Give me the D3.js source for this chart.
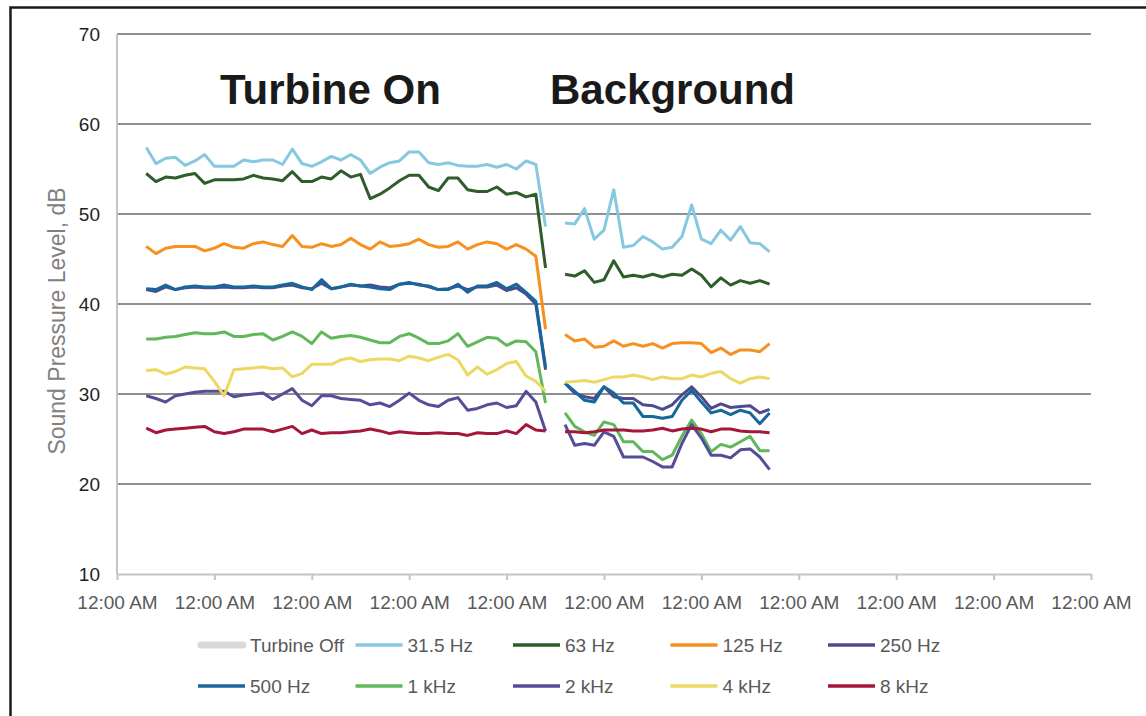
<!DOCTYPE html>
<html lang="en">
<head>
<meta charset="UTF-8">
<title>Sound Pressure Level - Turbine On / Background</title>
<script src="https://d3js.org/d3.v7.min.js"></script>
<style>
  body { margin: 0; overflow: hidden; background: #fff; font-family: 'Liberation Sans', Arial, sans-serif; }
  text { font-family: 'Liberation Sans', Arial, sans-serif; }
</style>
</head>
<body>
<div id="chart"></div>
<script>
  // samples are 144 min apart (10 per day), first "Turbine On" sample is #3, first background sample is #46
  const onStart = 3;
  const bgStart = 46;

  const series = ["Turbine Off", "31.5 Hz", "63 Hz", "125 Hz", "250 Hz", "500 Hz", "1 kHz", "2 kHz", "4 kHz", "8 kHz"];
  const colors = ["#d9d9d9", "#86c8e0", "#2d5d2a", "#f7901e", "#4f4a8e", "#17679b", "#60b85a", "#544e98", "#ecd862", "#a4163a"];

  // Turbine On period (dB)
  const on315 = [57.4, 55.6, 56.2, 56.3, 55.4, 55.9, 56.6, 55.3, 55.3, 55.3, 56.0, 55.8, 56.0, 56.0, 55.5, 57.2, 55.6, 55.3, 55.8, 56.4, 56.0, 56.6, 56.0, 54.5, 55.2, 55.7, 55.9, 56.9, 56.9, 55.7, 55.5, 55.7, 55.4, 55.3, 55.3, 55.5, 55.2, 55.5, 55.0, 55.9, 55.5, 48.6];
  const on63  = [54.5, 53.6, 54.1, 54.0, 54.3, 54.5, 53.4, 53.8, 53.8, 53.8, 53.9, 54.3, 54.0, 53.9, 53.7, 54.7, 53.6, 53.6, 54.1, 53.9, 54.8, 54.1, 54.4, 51.7, 52.2, 52.9, 53.7, 54.3, 54.3, 53.0, 52.6, 54.0, 54.0, 52.7, 52.5, 52.5, 53.0, 52.2, 52.4, 51.9, 52.2, 44.0];
  const on125 = [46.4, 45.6, 46.2, 46.4, 46.4, 46.4, 45.9, 46.2, 46.7, 46.3, 46.2, 46.7, 46.9, 46.6, 46.4, 47.6, 46.4, 46.3, 46.7, 46.4, 46.6, 47.3, 46.6, 46.1, 46.9, 46.4, 46.5, 46.7, 47.2, 46.6, 46.3, 46.4, 46.9, 46.1, 46.6, 46.9, 46.7, 46.1, 46.6, 46.1, 45.3, 37.2];
  const on250 = [41.6, 41.4, 41.9, 41.6, 41.8, 41.9, 41.8, 41.8, 41.9, 41.8, 41.8, 41.9, 41.8, 41.8, 42.0, 42.1, 41.8, 41.7, 42.3, 41.7, 41.9, 42.1, 42.0, 42.1, 41.9, 41.8, 42.2, 42.3, 42.2, 41.9, 41.6, 41.7, 42.0, 41.6, 41.9, 41.9, 42.1, 41.5, 41.8, 41.1, 40.0, 32.7];
  const on500 = [41.7, 41.6, 42.1, 41.6, 41.9, 42.0, 41.9, 41.9, 42.1, 41.9, 41.9, 42.0, 41.9, 41.9, 42.1, 42.3, 41.9, 41.6, 42.7, 41.7, 41.9, 42.2, 42.0, 41.9, 41.7, 41.6, 42.2, 42.4, 42.1, 42.0, 41.6, 41.6, 42.2, 41.3, 42.0, 42.0, 42.4, 41.7, 42.2, 41.3, 40.3, 33.0];
  const on1k  = [36.1, 36.1, 36.3, 36.4, 36.6, 36.8, 36.7, 36.7, 36.9, 36.4, 36.4, 36.6, 36.7, 36.0, 36.4, 36.9, 36.4, 35.6, 36.9, 36.2, 36.4, 36.5, 36.3, 36.0, 35.7, 35.7, 36.4, 36.7, 36.2, 35.6, 35.6, 35.9, 36.7, 35.3, 35.8, 36.3, 36.2, 35.4, 35.9, 35.8, 34.7, 29.0];
  const on2k  = [29.8, 29.5, 29.1, 29.8, 30.0, 30.2, 30.3, 30.3, 30.3, 29.7, 29.9, 30.0, 30.1, 29.4, 30.0, 30.6, 29.3, 28.7, 29.8, 29.8, 29.5, 29.4, 29.3, 28.8, 29.0, 28.6, 29.3, 30.1, 29.3, 28.8, 28.6, 29.3, 29.6, 28.2, 28.4, 28.8, 29.0, 28.5, 28.7, 30.3, 29.1, 25.9];
  const on4k  = [32.6, 32.7, 32.2, 32.5, 33.0, 32.9, 32.8, 31.4, 29.8, 32.7, 32.8, 32.9, 33.0, 32.8, 32.9, 31.9, 32.3, 33.3, 33.3, 33.3, 33.8, 34.0, 33.6, 33.8, 33.9, 33.9, 33.7, 34.2, 34.0, 33.7, 34.1, 34.4, 33.8, 32.1, 33.0, 32.2, 32.7, 33.4, 33.6, 32.0, 31.4, 30.3];
  const on8k  = [26.2, 25.7, 26.0, 26.1, 26.2, 26.3, 26.4, 25.8, 25.6, 25.8, 26.1, 26.1, 26.1, 25.8, 26.1, 26.4, 25.6, 26.0, 25.6, 25.7, 25.7, 25.8, 25.9, 26.1, 25.9, 25.6, 25.8, 25.7, 25.6, 25.6, 25.7, 25.6, 25.6, 25.4, 25.7, 25.6, 25.6, 25.9, 25.6, 26.6, 26.0, 25.9];

  // Background period (dB)
  const bg315 = [49.0, 48.9, 50.6, 47.2, 48.2, 52.7, 46.3, 46.5, 47.5, 46.9, 46.1, 46.3, 47.5, 51.0, 47.2, 46.7, 48.2, 47.1, 48.6, 46.8, 46.7, 45.8];
  const bg63  = [43.3, 43.1, 43.7, 42.4, 42.7, 44.8, 43.0, 43.2, 43.0, 43.3, 43.0, 43.3, 43.2, 43.9, 43.2, 41.9, 42.9, 42.1, 42.6, 42.3, 42.6, 42.2];
  const bg125 = [36.6, 35.9, 36.1, 35.2, 35.3, 35.9, 35.3, 35.6, 35.3, 35.6, 35.1, 35.6, 35.7, 35.7, 35.6, 34.6, 35.1, 34.4, 34.9, 34.9, 34.7, 35.6];
  const bg250 = [31.2, 30.1, 29.7, 29.5, 30.8, 29.7, 29.5, 29.5, 28.8, 28.7, 28.3, 28.8, 29.9, 30.8, 29.7, 28.4, 28.9, 28.5, 28.6, 28.7, 27.9, 28.3];
  const bg500 = [31.2, 30.3, 29.3, 29.1, 30.8, 30.1, 29.0, 29.0, 27.5, 27.5, 27.3, 27.5, 29.3, 30.4, 29.1, 27.9, 28.2, 27.7, 28.2, 27.9, 26.7, 27.9];
  const bg1k  = [27.9, 26.4, 25.8, 25.4, 26.9, 26.6, 24.7, 24.7, 23.6, 23.6, 22.7, 23.2, 25.3, 27.1, 25.6, 23.6, 24.4, 24.1, 24.7, 25.3, 23.7, 23.7];
  const bg2k  = [26.6, 24.3, 24.5, 24.3, 25.8, 25.3, 23.0, 23.0, 23.0, 22.5, 21.9, 21.9, 24.5, 26.6, 25.1, 23.2, 23.2, 22.9, 23.8, 23.9, 23.0, 21.6];
  const bg4k  = [31.3, 31.4, 31.5, 31.3, 31.6, 31.9, 31.9, 32.1, 31.9, 31.6, 31.9, 31.7, 31.7, 32.1, 31.9, 32.3, 32.5, 31.7, 31.2, 31.7, 31.9, 31.7];
  const bg8k  = [25.8, 25.8, 25.7, 25.8, 26.0, 26.0, 26.0, 25.9, 25.9, 26.0, 26.2, 25.9, 26.1, 26.2, 26.1, 25.8, 26.1, 26.1, 25.9, 25.8, 25.8, 25.7];

  const onData = [[], on315, on63, on125, on250, on500, on1k, on2k, on4k, on8k];
  const bgData = [[], bg315, bg63, bg125, bg250, bg500, bg1k, bg2k, bg4k, bg8k];

  const yTicks = [10, 20, 30, 40, 50, 60, 70];

  const width = 1146, height = 716;
  const plotLeft = 117, plotRight = 1091, plotTop = 34, plotBottom = 574;

  const t0 = new Date(2016, 0, 1);
  const sampleTime = i => d3.timeMinute.offset(t0, i * 144);

  const svg = d3.select("#chart").append("svg")
      .attr("width", width)
      .attr("height", height);

  // outer frame (left + top edges only are visible)
  svg.append("path")
      .attr("d", `M10.5,${height} L10.5,7.5 L${width},7.5`)
      .attr("fill", "none")
      .attr("stroke", "#1a1a1a")
      .attr("stroke-width", 2.5);

  const x = d3.scaleTime()
      .domain([t0, d3.timeDay.offset(t0, 10)])
      .range([plotLeft, plotRight]);

  const y = d3.scaleLinear()
      .domain([10, 70])
      .range([plotBottom, plotTop]);

  // horizontal grid
  svg.append("g")
    .selectAll("line")
    .data(yTicks.filter(d => d > 10))
    .enter().append("line")
      .attr("x1", plotLeft).attr("x2", plotRight)
      .attr("y1", d => y(d)).attr("y2", d => y(d))
      .attr("stroke", "#8f8f8f")
      .attr("stroke-width", 2);

  // left axis line
  svg.append("line")
      .attr("x1", plotLeft).attr("x2", plotLeft)
      .attr("y1", plotTop).attr("y2", plotBottom)
      .attr("stroke", "#c4c4c4")
      .attr("stroke-width", 2);

  // y tick labels
  svg.append("g")
    .selectAll("text")
    .data(yTicks)
    .enter().append("text")
      .attr("x", plotLeft - 17)
      .attr("y", d => y(d))
      .attr("dy", "0.36em")
      .attr("text-anchor", "end")
      .style("font-size", "19px")
      .style("fill", "#1f1f1f")
      .text(d => d);

  // x axis
  const xAxis = svg.append("g")
      .attr("transform", `translate(0,${plotBottom})`)
      .call(d3.axisBottom(x)
        .ticks(d3.timeDay.every(1))
        .tickFormat(d3.timeFormat("%-I:%M %p"))
        .tickSize(6)
        .tickSizeOuter(0));
  xAxis.select(".domain").attr("stroke", "#c4c4c4").attr("stroke-width", 2);
  xAxis.selectAll(".tick line").attr("stroke", "#c4c4c4").attr("stroke-width", 2);
  xAxis.selectAll(".tick text")
      .attr("dy", null)
      .attr("y", 35)
      .style("font-size", "19px")
      .style("font-family", "'Liberation Sans', Arial, sans-serif")
      .style("fill", "#595959");

  // y axis title
  svg.append("text")
      .attr("transform", "translate(57,321) rotate(-90)")
      .attr("dy", "0.35em")
      .attr("text-anchor", "middle")
      .style("font-size", "23px")
      .style("fill", "#808080")
      .text("Sound Pressure Level, dB");

  // series lines
  const line = d3.line()
      .x(d => x(sampleTime(d.i)))
      .y(d => y(d.v));

  const plot = svg.append("g");
  series.forEach((name, s) => {
    [[onData[s], onStart], [bgData[s], bgStart]].forEach(([vals, start]) => {
      if (!vals.length) return;
      plot.append("path")
          .datum(vals.map((v, k) => ({ i: start + k, v: v })))
          .attr("fill", "none")
          .attr("stroke", colors[s])
          .attr("stroke-width", 3)
          .attr("stroke-linejoin", "round")
          .attr("d", line);
    });
  });

  // section titles
  svg.append("text")
      .attr("x", 220).attr("y", 104)
      .style("font-size", "42px")
      .style("font-weight", "bold")
      .style("fill", "#1a1a1a")
      .text("Turbine On");
  svg.append("text")
      .attr("x", 550).attr("y", 104)
      .style("font-size", "42px")
      .style("font-weight", "bold")
      .style("fill", "#1a1a1a")
      .text("Background");

  // legend, 5 columns x 2 rows
  const legend = svg.append("g");
  series.forEach((name, s) => {
    const lx = 198 + (s % 5) * 157.5;
    const ly = 645 + Math.floor(s / 5) * 41;
    const g = legend.append("g").attr("transform", `translate(${lx},${ly})`);
    g.append("line")
        .attr("x1", s === 0 ? 3 : 0).attr("x2", s === 0 ? 45 : 47)
        .attr("stroke", colors[s])
        .attr("stroke-width", s === 0 ? 7 : 3.5)
        .attr("stroke-linecap", s === 0 ? "round" : "butt");
    g.append("text")
        .attr("x", 52)
        .attr("dy", "0.36em")
        .style("font-size", "19px")
        .style("fill", "#595959")
        .text(name);
  });
</script>
</body>
</html>
